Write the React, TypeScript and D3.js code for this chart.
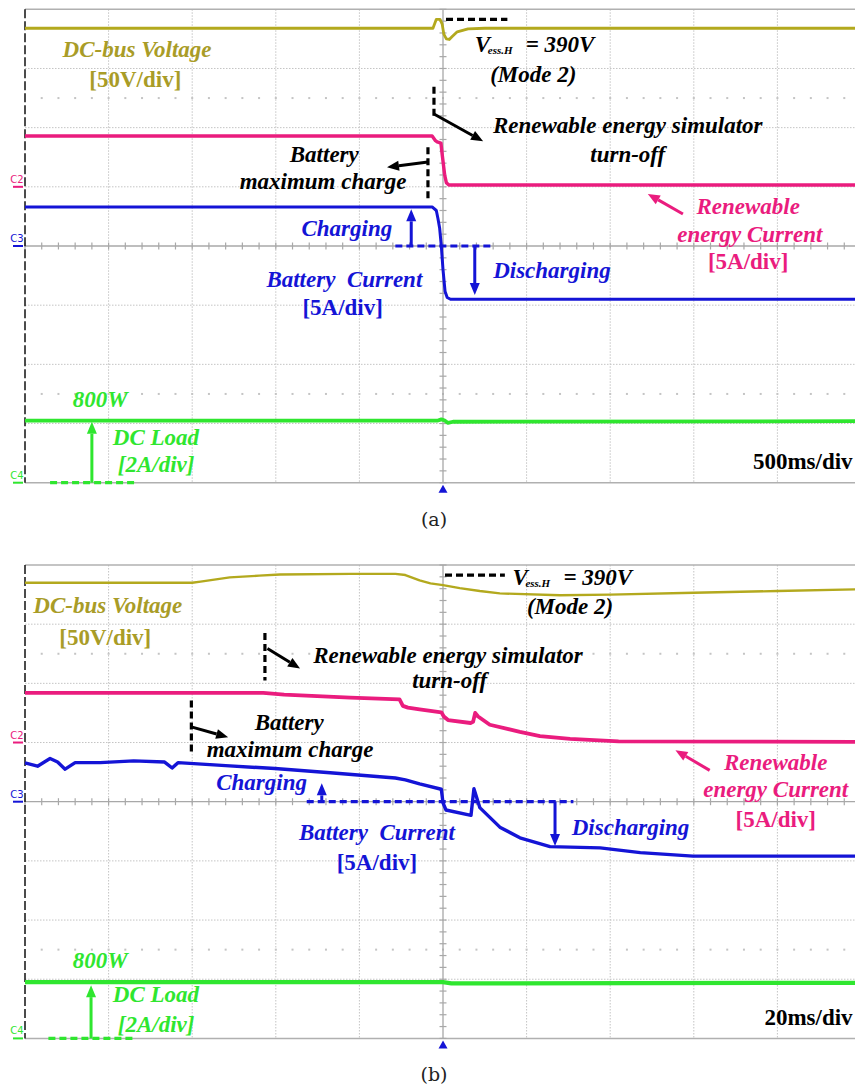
import React from "react";
import * as d3 from "d3";

const WIDTH = 855;
const HEIGHT = 1086;

// The scope screen is 10 x 8 divisions, centred on the trigger point.
const timeDomain: [number, number] = [-5, 5];
const levelDomain: [number, number] = [-4, 4];
const timeTicks = d3.range(-5, 5.001, 1);
const levelTicks = d3.range(-4, 4.001, 1);
const minorTicksX = d3.range(-5, 5.001, 0.2);
const minorTicksY = d3.range(-4, 4.001, 0.2);
const cursorLevels = [2.5, -2.5];

type Pt = [number, number]; // [time (div), level (div)]

// ---- (a) 500 ms/div ----
const busVoltageA: Pt[] = [
  [-5, 3.68], [-0.12, 3.68], [-0.08, 3.83], [-0.035, 3.83], [-0.01, 3.75],
  [0.01, 3.58], [0.04, 3.5], [0.075, 3.49], [0.11, 3.54], [0.17, 3.62],
  [0.3, 3.67], [0.5, 3.68], [5, 3.68],
];
const renewableCurrentA: Pt[] = [
  [-5, 1.86], [-0.13, 1.86], [-0.09, 1.78], [-0.07, 1.76], [-0.025, 1.74],
  [-0.01, 1.55], [0.02, 1.2], [0.04, 1.07], [0.07, 1.03], [5, 1.03],
];
const batteryCurrentA: Pt[] = [
  [-5, 0.66], [-0.13, 0.66], [-0.08, 0.6], [-0.06, 0.46], [-0.04, 0.3],
  [-0.02, 0.0], [0.0, -0.4], [0.025, -0.77], [0.05, -0.87], [0.09, -0.9], [5, -0.9],
];
const loadCurrentA: Pt[] = [
  [-5, -2.95], [-0.06, -2.95], [-0.02, -2.93], [0.02, -2.95], [0.06, -2.99],
  [0.12, -2.97], [5, -2.96],
];

// ---- (b) 20 ms/div ----
const busVoltageB: Pt[] = [
  [-5, 3.7], [-3.0, 3.7], [-2.9, 3.72], [-2.55, 3.79], [-2.2, 3.82], [-1.95, 3.84],
  [-1.1, 3.85], [-0.57, 3.85], [-0.45, 3.83], [-0.28, 3.74], [-0.15, 3.69],
  [0, 3.66], [0.2, 3.61], [0.44, 3.56], [0.68, 3.52], [1.4, 3.49], [2.0, 3.5],
  [3.0, 3.53], [4.0, 3.56], [5, 3.59],
];
const renewableCurrentB: Pt[] = [
  [-5, 1.84], [-2.15, 1.84], [-1.9, 1.81], [-1.11, 1.76], [-0.52, 1.73],
  [-0.48, 1.62], [-0.42, 1.59], [-0.28, 1.56], [-0.02, 1.51], [0.01, 1.44],
  [0.06, 1.38], [0.33, 1.33], [0.36, 1.35], [0.385, 1.5], [0.42, 1.44],
  [0.56, 1.3], [0.92, 1.18], [1.16, 1.11], [1.52, 1.06], [2.1, 1.02], [5, 1.01],
];
const batteryCurrentB: Pt[] = [
  [-5, 0.655], [-4.85, 0.6], [-4.7, 0.73], [-4.61, 0.67], [-4.52, 0.55],
  [-4.4, 0.66], [-4.1, 0.66], [-3.7, 0.69], [-3.33, 0.67], [-3.24, 0.57],
  [-3.17, 0.66], [-2.6, 0.61], [-2.01, 0.56], [-1.35, 0.49], [-0.57, 0.4],
  [-0.45, 0.37], [-0.28, 0.3], [-0.02, 0.21], [0.0, -0.02], [0.036, -0.14],
  [0.335, -0.23], [0.37, 0.22], [0.44, -0.1], [0.68, -0.43], [0.92, -0.61],
  [1.28, -0.76], [1.88, -0.78], [2.36, -0.86], [2.99, -0.92], [5, -0.92],
];
const loadCurrentB: Pt[] = [[-5, -3.05], [0, -3.05], [0.1, -3.07], [5, -3.06]];

const channelNames = ["C2", "C3", "C4"];
const channelLevels = [1, 0, -4];
const timebaseLabels = ["500ms/div", "20ms/div"];
const captions = ["(a)", "(b)"];

const OLIVE = "#b3a91e";
const OLIVE_TEXT = "#a99c27";
const PINK = "#ea1c7e";
const BLUE = "#1414d6";
const GREEN = "#2fe62f";
const BLACK = "#000";

const SERIF = "'Liberation Serif', 'Times New Roman', serif";

type Note =
  | { kind: "text"; t: number; v: number; text: string; color: string; anchor?: "start" | "middle" | "end"; upright?: boolean }
  | { kind: "vess"; t: number; v: number }
  | { kind: "arrow"; t1: number; v1: number; t2: number; v2: number; color: string }
  | { kind: "dash"; t1: number; v1: number; t2: number; v2: number; color: string };

const notesA: Note[] = [
  { kind: "text", t: -4.55, v: 3.19, text: "DC-bus Voltage", color: OLIVE_TEXT, anchor: "start" },
  { kind: "text", t: -3.68, v: 2.69, text: "[50V/div]", color: OLIVE_TEXT, upright: true },
  { kind: "dash", t1: 0.036, v1: 3.83, t2: 0.77, v2: 3.83, color: BLACK },
  { kind: "vess", t: 0.38, v: 3.28 },
  { kind: "text", t: 1.08, v: 2.77, text: "(Mode 2)", color: BLACK },
  { kind: "dash", t1: -0.108, v1: 2.69, t2: -0.108, v2: 2.15, color: BLACK },
  { kind: "arrow", t1: -0.108, v1: 2.23, t2: 0.48, v2: 1.77, color: BLACK },
  { kind: "text", t: 2.21, v: 1.91, text: "Renewable energy simulator", color: BLACK },
  { kind: "text", t: 2.21, v: 1.42, text: "turn-off", color: BLACK },
  { kind: "dash", t1: -0.18, v1: 1.67, t2: -0.18, v2: 0.79, color: BLACK },
  { kind: "arrow", t1: -0.18, v1: 1.42, t2: -0.67, v2: 1.33, color: BLACK },
  { kind: "text", t: -1.42, v: 1.42, text: "Battery", color: BLACK },
  { kind: "text", t: -1.435, v: 0.96, text: "maximum charge", color: BLACK },
  { kind: "text", t: -1.15, v: 0.17, text: "Charging", color: BLUE },
  { kind: "dash", t1: -0.57, v1: 0, t2: 0.6, v2: 0, color: BLUE },
  { kind: "arrow", t1: -0.38, v1: 0, t2: -0.38, v2: 0.62, color: BLUE },
  { kind: "arrow", t1: 0.38, v1: 0, t2: 0.38, v2: -0.83, color: BLUE },
  { kind: "text", t: 0.6, v: -0.54, text: "Discharging", color: BLUE, anchor: "start" },
  { kind: "text", t: -1.18, v: -0.69, text: "Battery\u00a0 Current", color: BLUE },
  { kind: "text", t: -1.2, v: -1.17, text: "[5A/div]", color: BLUE, upright: true },
  { kind: "arrow", t1: 2.87, v1: 0.54, t2: 2.45, v2: 0.88, color: PINK },
  { kind: "text", t: 3.65, v: 0.54, text: "Renewable", color: PINK },
  { kind: "text", t: 3.67, v: 0.07, text: "energy Current", color: PINK },
  { kind: "text", t: 3.65, v: -0.39, text: "[5A/div]", color: PINK, upright: true },
  { kind: "text", t: -4.1, v: -2.72, text: "800W", color: GREEN },
  { kind: "dash", t1: -4.7, v1: -4, t2: -3.68, v2: -4, color: GREEN },
  { kind: "arrow", t1: -4.2, v1: -4, t2: -4.2, v2: -2.97, color: GREEN },
  { kind: "text", t: -3.95, v: -3.36, text: "DC Load", color: GREEN, anchor: "start" },
  { kind: "text", t: -3.89, v: -3.82, text: "[2A/div]", color: GREEN, anchor: "start" },
];

const notesB: Note[] = [
  { kind: "text", t: -4.9, v: 3.19, text: "DC-bus Voltage", color: OLIVE_TEXT, anchor: "start" },
  { kind: "text", t: -4.04, v: 2.64, text: "[50V/div]", color: OLIVE_TEXT, upright: true },
  { kind: "dash", t1: 0.024, v1: 3.83, t2: 0.74, v2: 3.83, color: BLACK },
  { kind: "vess", t: 0.83, v: 3.67 },
  { kind: "text", t: 1.52, v: 3.18, text: "(Mode 2)", color: BLACK },
  { kind: "dash", t1: -2.13, v1: 2.85, t2: -2.13, v2: 2.05, color: BLACK },
  { kind: "arrow", t1: -2.1, v1: 2.59, t2: -1.71, v2: 2.25, color: BLACK },
  { kind: "text", t: 0.06, v: 2.34, text: "Renewable energy simulator", color: BLACK },
  { kind: "text", t: 0.08, v: 1.92, text: "turn-off", color: BLACK },
  { kind: "dash", t1: -3.01, v1: 1.71, t2: -3.01, v2: 0.79, color: BLACK },
  { kind: "arrow", t1: -3.0, v1: 1.26, t2: -2.57, v2: 1.09, color: BLACK },
  { kind: "text", t: -1.84, v: 1.21, text: "Battery", color: BLACK },
  { kind: "text", t: -1.83, v: 0.75, text: "maximum charge", color: BLACK },
  { kind: "text", t: -2.17, v: 0.19, text: "Charging", color: BLUE },
  { kind: "dash", t1: -1.63, v1: 0, t2: 1.56, v2: 0, color: BLUE },
  { kind: "arrow", t1: -1.45, v1: 0, t2: -1.45, v2: 0.31, color: BLUE },
  { kind: "arrow", t1: 1.34, v1: 0, t2: 1.34, v2: -0.75, color: BLUE },
  { kind: "text", t: 1.54, v: -0.57, text: "Discharging", color: BLUE, anchor: "start" },
  { kind: "text", t: -0.79, v: -0.65, text: "Battery\u00a0 Current", color: BLUE },
  { kind: "text", t: -0.79, v: -1.16, text: "[5A/div]", color: BLUE, upright: true },
  { kind: "arrow", t1: 3.19, v1: 0.53, t2: 2.78, v2: 0.87, color: PINK },
  { kind: "text", t: 3.98, v: 0.53, text: "Renewable", color: PINK },
  { kind: "text", t: 3.98, v: 0.08, text: "energy Current", color: PINK },
  { kind: "text", t: 3.98, v: -0.43, text: "[5A/div]", color: PINK, upright: true },
  { kind: "text", t: -4.1, v: -2.81, text: "800W", color: GREEN },
  { kind: "dash", t1: -4.72, v1: -4, t2: -3.7, v2: -4, color: GREEN },
  { kind: "arrow", t1: -4.21, v1: -4, t2: -4.21, v2: -3.1, color: GREEN },
  { kind: "text", t: -3.95, v: -3.39, text: "DC Load", color: GREEN, anchor: "start" },
  { kind: "text", t: -3.89, v: -3.89, text: "[2A/div]", color: GREEN, anchor: "start" },
];

type Trace = { data: Pt[]; color: string; width: number };

type PanelProps = {
  top: number;
  traces: Trace[];
  notes: Note[];
  timebase: string;
  caption: string;
  captionY: number;
};

const PLOT_LEFT = 25;
const PLOT_RIGHT = 861;
const PLOT_HEIGHT = 473.4;

function Arrow({ x1, y1, x2, y2, color }: { x1: number; y1: number; x2: number; y2: number; color: string }) {
  const ang = Math.atan2(y2 - y1, x2 - x1);
  const head = 12;
  const half = 5;
  const hx = x2 - head * Math.cos(ang);
  const hy = y2 - head * Math.sin(ang);
  const px = -Math.sin(ang) * half;
  const py = Math.cos(ang) * half;
  return (
    <g>
      <line x1={x1} y1={y1} x2={hx} y2={hy} stroke={color} strokeWidth={3} />
      <polygon points={`${x2},${y2} ${hx + px},${hy + py} ${hx - px},${hy - py}`} fill={color} />
    </g>
  );
}

function Scope({ top, traces, notes, timebase, caption, captionY }: PanelProps) {
  const x = d3.scaleLinear().domain(timeDomain).range([PLOT_LEFT, PLOT_RIGHT]);
  const y = d3.scaleLinear().domain(levelDomain).range([top + PLOT_HEIGHT, top]);
  const line = d3
    .line<Pt>()
    .x((d) => x(d[0]))
    .y((d) => y(d[1]))
    .curve(d3.curveLinear);

  const x0 = x(0);
  const y0 = y(0);

  return (
    <g>
      {/* dotted division grid */}
      {timeTicks.filter((t) => t !== 0 && t !== -5).map((t) => (
        <line key={`vx${t}`} x1={x(t)} x2={x(t)} y1={y(4)} y2={y(-4)} stroke="#c4c4c4" strokeWidth={1} strokeDasharray="1.5,1.5" />
      ))}
      {levelTicks.filter((v) => v !== 0 && Math.abs(v) !== 4).map((v) => (
        <line key={`hy${v}`} x1={x(-5)} x2={x(5)} y1={y(v)} y2={y(v)} stroke="#c4c4c4" strokeWidth={1} strokeDasharray="1.5,1.5" />
      ))}
      {cursorLevels.map((v) =>
        minorTicksX.filter((t) => t > -5 && t < 5).map((t) => (
          <rect key={`c${v}-${t}`} x={x(t) - 1} y={y(v) - 1} width={2} height={2} fill="#c4c4c4" />
        ))
      )}
      {/* frame */}
      <line x1={x(-5)} x2={x(5)} y1={y(4)} y2={y(4)} stroke="#b0b0b0" strokeWidth={1.5} />
      <line x1={x(-5)} x2={x(5)} y1={y(-4)} y2={y(-4)} stroke="#b0b0b0" strokeWidth={1.5} />
      {/* centre axes with minor ticks */}
      <line x1={x(-5)} x2={x(5)} y1={y0} y2={y0} stroke="#a8a8a8" strokeWidth={1.3} />
      <line x1={x0} x2={x0} y1={y(4)} y2={y(-4)} stroke="#a8a8a8" strokeWidth={1.3} />
      {minorTicksX.map((t) => (
        <line key={`mx${t}`} x1={x(t)} x2={x(t)} y1={y0 - 3.5} y2={y0 + 3.5} stroke="#a8a8a8" strokeWidth={1.2} />
      ))}
      {minorTicksY.map((v) => (
        <line key={`my${v}`} x1={x0 - 3.5} x2={x0 + 3.5} y1={y(v)} y2={y(v)} stroke="#a8a8a8" strokeWidth={1.2} />
      ))}
      <line x1={x(-5)} x2={x(-5)} y1={y(4)} y2={y(-4)} stroke="#111" strokeWidth={1.5} strokeDasharray="9,3" />

      {/* channel ground markers */}
      {channelNames.map((name, i) => {
        const c = [PINK, BLUE, GREEN][i];
        const yy = y(channelLevels[i]);
        return (
          <g key={name}>
            <text x={17} y={yy - 4} fontSize={10} fill={c} fontFamily="'DejaVu Sans', sans-serif" textAnchor="middle">
              {name}
            </text>
            <line x1={13} x2={23} y1={yy} y2={yy} stroke={c} strokeWidth={2} />
          </g>
        );
      })}

      {/* traces */}
      {traces.map((tr, i) => (
        <path key={i} d={line(tr.data) || ""} fill="none" stroke={tr.color} strokeWidth={tr.width} strokeLinejoin="round" />
      ))}

      {/* annotations */}
      {notes.map((n, i) => {
        if (n.kind === "text") {
          return (
            <text
              key={i}
              x={x(n.t)}
              y={y(n.v)}
              fill={n.color}
              fontFamily={SERIF}
              fontWeight="bold"
              fontStyle={n.upright ? "normal" : "italic"}
              fontSize={23}
              textAnchor={n.anchor || "middle"}
            >
              {n.text}
            </text>
          );
        }
        if (n.kind === "vess") {
          const bx = x(n.t);
          const by = y(n.v);
          return (
            <g key={i} fontFamily={SERIF} fontWeight="bold" fontStyle="italic" fill={BLACK}>
              <text x={bx} y={by} fontSize={23}>V</text>
              <text x={bx + 13} y={by + 2} fontSize={11}>ess.H</text>
              <text x={bx + 51} y={by} fontSize={23}>= 390V</text>
            </g>
          );
        }
        if (n.kind === "arrow") {
          return <Arrow key={i} x1={x(n.t1)} y1={y(n.v1)} x2={x(n.t2)} y2={y(n.v2)} color={n.color} />;
        }
        return (
          <line
            key={i}
            x1={x(n.t1)}
            y1={y(n.v1)}
            x2={x(n.t2)}
            y2={y(n.v2)}
            stroke={n.color}
            strokeWidth={3.2}
            strokeDasharray="7,4"
          />
        );
      })}

      <text x={x(4.9)} y={y(-3.77)} fontFamily={SERIF} fontWeight="bold" fontSize={23} textAnchor="end" fill={BLACK}>
        {timebase}
      </text>

      {/* trigger position marker */}
      <polygon points={`${x0},${y(-4) + 2} ${x0 - 4.5},${y(-4) + 10} ${x0 + 4.5},${y(-4) + 10}`} fill={BLUE} />

      <text x={434} y={captionY} fontFamily="'DejaVu Serif', serif" fontSize={19} textAnchor="middle" fill="#222">
        {caption}
      </text>
    </g>
  );
}

export default function App() {
  const panels = [
    {
      top: 9.3,
      traces: [
        { data: busVoltageA, color: OLIVE, width: 2.8 },
        { data: renewableCurrentA, color: PINK, width: 3.4 },
        { data: batteryCurrentA, color: BLUE, width: 3 },
        { data: loadCurrentA, color: GREEN, width: 3.8 },
      ],
      notes: notesA,
      captionY: 526,
    },
    {
      top: 565,
      traces: [
        { data: busVoltageB, color: OLIVE, width: 2.4 },
        { data: renewableCurrentB, color: PINK, width: 3.8 },
        { data: batteryCurrentB, color: BLUE, width: 3.4 },
        { data: loadCurrentB, color: GREEN, width: 4.2 },
      ],
      notes: notesB,
      captionY: 1081,
    },
  ];

  return (
    <svg width={WIDTH} height={HEIGHT} viewBox={`0 0 ${WIDTH} ${HEIGHT}`} style={{ display: "block", position: "absolute", left: 0, top: 0, background: "#fff" }}>
      <rect width={WIDTH} height={HEIGHT} fill="#fff" />
      {panels.map((p, i) => (
        <Scope
          key={i}
          top={p.top}
          traces={p.traces}
          notes={p.notes}
          timebase={timebaseLabels[i]}
          caption={captions[i]}
          captionY={p.captionY}
        />
      ))}
    </svg>
  );
}
